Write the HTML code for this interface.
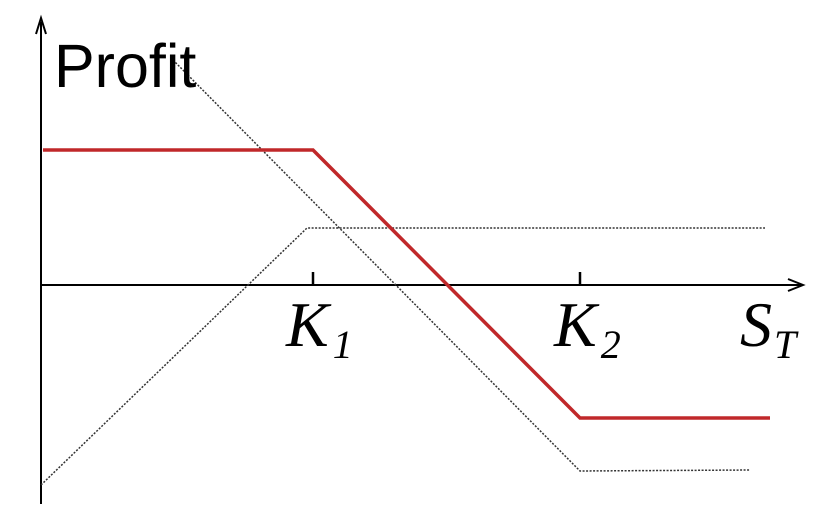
<!DOCTYPE html>
<html><head><style>html,body{margin:0;padding:0;background:#fff;}</style></head>
<body>
<svg width="824" height="504" viewBox="0 0 824 504" xmlns="http://www.w3.org/2000/svg">
<line x1="41" y1="22" x2="41" y2="504" stroke="#000" stroke-width="2"/>
<path d="M36,34 L41,18 L46,34" fill="none" stroke="#000" stroke-width="2"/>
<line x1="41" y1="285" x2="802" y2="285" stroke="#000" stroke-width="2"/>
<path d="M788,279 L803,285 L788,291" fill="none" stroke="#000" stroke-width="2"/>
<line x1="313" y1="272" x2="313" y2="285" stroke="#000" stroke-width="2.5"/>
<line x1="580" y1="272" x2="580" y2="285" stroke="#000" stroke-width="2.5"/>
<polyline points="173,60 580,471 750,470" fill="none" stroke="#333" stroke-width="1.5" stroke-dasharray="2,1.5"/>
<polyline points="41,485 307,228 765,228" fill="none" stroke="#333" stroke-width="1.5" stroke-dasharray="2,1.5"/>
<polyline points="43,150 313,150 580,418 770,418" fill="none" stroke="#c0282a" stroke-width="3.5"/>
<text x="54" y="87" font-family="Liberation Sans, sans-serif" font-size="61">Profit</text>
<text x="286" y="346" font-family="Liberation Serif, serif" font-style="italic" font-size="64">K<tspan font-size="40" dx="4" dy="12">1</tspan></text>
<text x="554" y="346" font-family="Liberation Serif, serif" font-style="italic" font-size="64">K<tspan font-size="40" dx="4" dy="12">2</tspan></text>
<text x="740" y="346" font-family="Liberation Serif, serif" font-style="italic" font-size="64">S<tspan font-size="40" dx="2" dy="12">T</tspan></text>
</svg>
</body></html>
